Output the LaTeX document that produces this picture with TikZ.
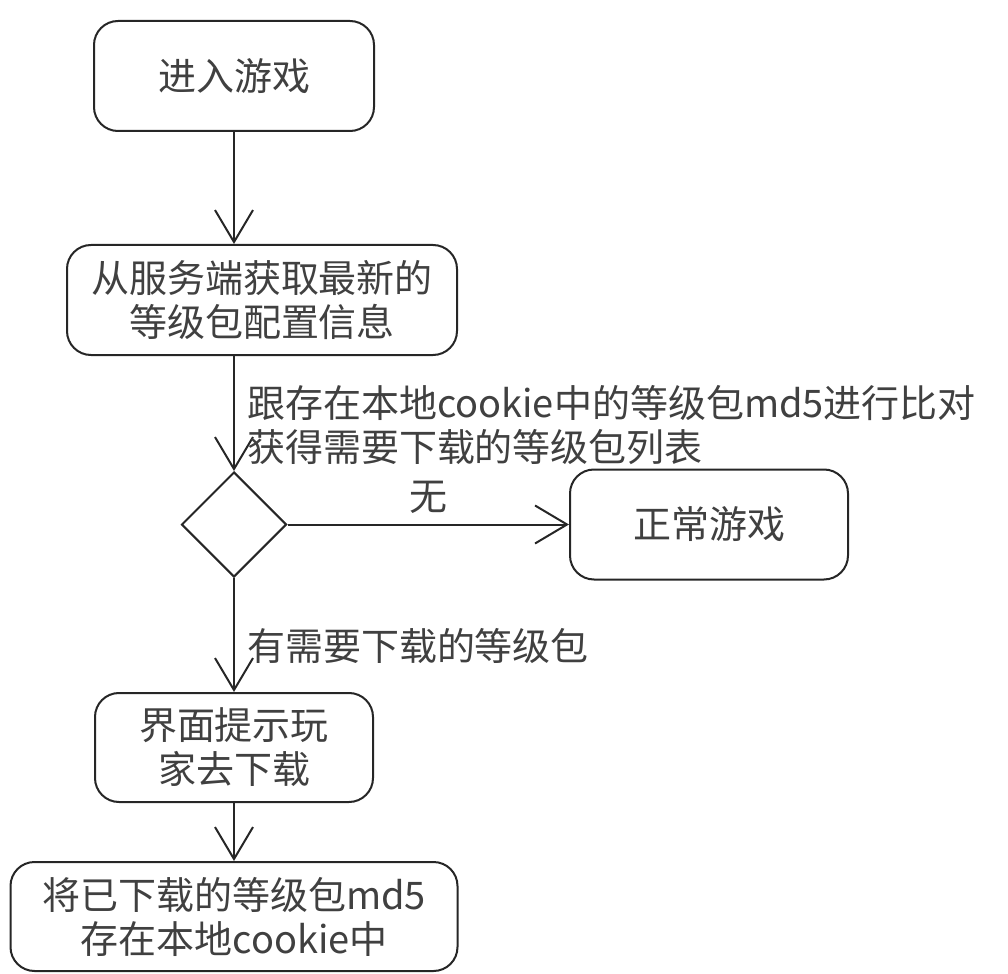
\documentclass[tikz,border=0pt]{standalone}
\usepackage{fontspec}
\setmainfont{Noto Sans CJK SC}
\usetikzlibrary{arrows.meta,shapes.geometric}

\begin{document}
\begin{tikzpicture}[
        x=0.5pt, y=-0.5pt,
        rect/.style={rectangle, rounded corners=12pt, draw=black!85, line width=1pt, text=black!75, font=\fontsize{19}{22}\selectfont, align=center, minimum height=55pt},
        cond/.style={diamond, draw=black!85, line width=1pt, minimum width=52.5pt, minimum height=52.5pt, inner sep=0pt},
        flow/.style={draw=black!85, line width=1pt, -{Straight Barb[length=16pt,width=19pt]}},
        lbl/.style={text=black!75, font=\fontsize{19}{22}\selectfont, inner sep=0pt}
    ]
    \useasboundingbox (0,0) rectangle (1008,974);
    \node[rect, minimum width=140pt] (enter) at (234,76) {进入游戏};
    \node[rect, minimum width=195pt] (fetch) at (262,300) {从服务端获取最新的\\等级包配置信息};
    \node[cond] (check) at (234,524.5) {};
    \node[rect, minimum width=139pt] (normal) at (709,524.5) {正常游戏};
    \node[rect, minimum width=139pt, minimum height=54.5pt] (prompt) at (234,747.5) {界面提示玩\\家去下载};
    \node[rect, minimum width=223.5pt, minimum height=54.5pt] (store) at (234,916.5) {将已下载的等级包md5\\存在本地cookie中};

    \draw[flow] (enter.south) -- (enter.south |- fetch.north);
    \draw[flow] (check.north |- fetch.south) -- node[lbl, pos=0.6, right=6pt, align=left] {跟存在本地cookie中的等级包md5进行比对\\获得需要下载的等级包列表} (check.north);
    \draw[flow] (check.east) -- node[lbl, above=5pt] {无} (normal.west);
    \draw[flow] (check.south) -- node[lbl, pos=0.6, right=6pt] {有需要下载的等级包} (prompt.north);
    \draw[flow] (prompt.south) -- (store.north);
\end{tikzpicture}
\end{document}
